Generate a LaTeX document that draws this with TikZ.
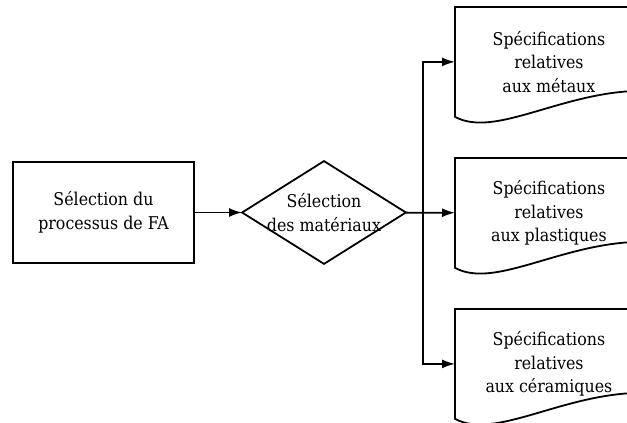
\documentclass[tikz,border=0pt]{standalone}
\usepackage{fontspec}
\setmainfont{DejaVu Serif Condensed}
\usetikzlibrary{arrows.meta,calc}
\begin{document}
\begin{tikzpicture}[x=1pt,y=-1pt, line width=1.8pt,
  every node/.style={font=\fontsize{17.6}{23.5}\selectfont, align=center, inner sep=0pt},
  proc/.style={draw, minimum width=181pt, minimum height=101pt},
  decision/.style={minimum width=162pt, minimum height=101pt},
  doc/.style={minimum width=186pt, minimum height=108pt, anchor=north west},
  docline/.style={line join=miter},
  arr/.style={-{Latex[length=13pt,width=9pt]}}]
\useasboundingbox (0,0) rectangle (627,423);
\clip (0,0) rectangle (627,423);
\node[proc] (p) at (103.5,212.5) {Sélection du\\processus de FA};
\node[decision] (dia) at (324,212.5) {Sélection\\des matériaux};
\draw (dia.west) -- (dia.north) -- (dia.east) -- (dia.south) -- cycle;
\node[doc] (d1) at (455,7) {Spécifications\\relatives\\aux métaux};
\node[doc] (d2) at (455,158) {Spécifications\\relatives\\aux plastiques};
\node[doc] (d3) at (455,309) {Spécifications\\relatives\\aux céramiques};
\foreach \d in {d1,d2,d3}{
  \draw[docline] (\d.north east) -- (\d.north west) -- (\d.south west)
    .. controls +(40,22) and +(-80,0) .. ([yshift=26pt]\d.south east) -- cycle;
}
\coordinate (j) at (423,212.5);
\draw[arr] (p) -- (dia);
\draw[arr] (dia) -- (d2);
\draw[arr] (j) |- (d1.west);
\draw[arr] (j) |- (d3.west);
\end{tikzpicture}
\end{document}
